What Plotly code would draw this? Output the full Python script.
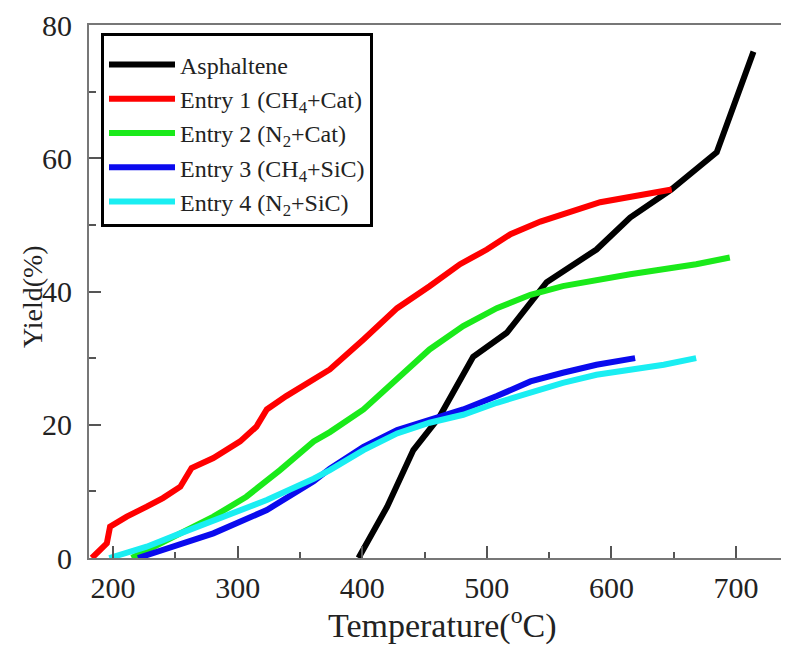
import plotly.graph_objects as go

# ---- data ----
asph_T = [397, 420, 441, 462, 489, 516, 548, 588, 615, 648, 684.5, 714]
asph_Y = [0, 7.7, 16.2, 21.2, 30.2, 33.8, 41.4, 46.3, 51.1, 55.3, 60.9, 76.0]

e1_T = [183, 195, 197.6, 211, 227, 240, 254, 259, 263, 280.5, 302, 315, 323.4, 339, 361, 374, 401, 428, 454, 478.5, 500, 519, 543, 591, 648.4]
e1_Y = [0, 2.2, 4.7, 6.2, 7.7, 9.0, 10.7, 12.2, 13.5, 15.0, 17.5, 19.7, 22.3, 24.3, 26.8, 28.3, 32.8, 37.5, 40.8, 44.1, 46.3, 48.6, 50.5, 53.4, 55.3]

e2_T = [215, 248, 280.5, 307, 334, 361, 374, 401, 428, 454, 481, 508, 535, 561, 615, 668, 695]
e2_Y = [0, 3.2, 6.2, 9.2, 13.2, 17.5, 18.9, 22.3, 26.8, 31.3, 34.8, 37.5, 39.5, 40.8, 42.6, 44.1, 45.1]

e3_T = [220, 254, 280.5, 323.4, 361, 374, 401, 428, 454, 481, 508, 535, 561, 588, 619]
e3_Y = [0, 2.2, 3.7, 7.2, 11.5, 13.4, 16.7, 19.2, 20.8, 22.3, 24.3, 26.5, 27.8, 29.0, 30.0]

e4_T = [197, 227, 254, 294, 323.4, 361, 374, 401, 428, 454, 481, 508, 535, 561, 588, 642, 668]
e4_Y = [0, 1.7, 3.7, 6.7, 8.7, 11.9, 13.2, 16.2, 18.7, 20.3, 21.5, 23.3, 24.8, 26.3, 27.5, 29.0, 30.0]

names = ["Asphaltene", "Entry 1 (CH<sub>4</sub>+Cat)", "Entry 2 (N<sub>2</sub>+Cat)",
         "Entry 3 (CH<sub>4</sub>+SiC)", "Entry 4 (N<sub>2</sub>+SiC)"]
colors = ["#000000", "#ff0000", "#1aea1a", "#0a0aee", "#1aeef2"]
series = [(asph_T, asph_Y), (e1_T, e1_Y), (e2_T, e2_Y), (e3_T, e3_Y), (e4_T, e4_Y)]

x_ticks = [200, 300, 400, 500, 600, 700]
y_ticks = [0, 20, 40, 60, 80]

FONT = "Liberation Serif"

# the page body adds an 8px offset; compensate so the plot area sits at 89..789 x 25..558
W, H = 781, 639
L, T = 81, 17
PW, PH = 700, 533

fig = go.Figure()
for i, ((t, y), n, c) in enumerate(zip(series, names, colors)):
    fig.add_trace(go.Scatter(x=t, y=y, mode="lines", name=n, legendgroup=str(i),
                             line=dict(color=c, width=6)))

axis_common = dict(showgrid=False, zeroline=False, showline=True, linecolor="#777",
                   linewidth=2, ticks="inside", tickcolor="#555", tickwidth=2,
                   ticklen=12, tickfont=dict(family=FONT, size=30, color="#222"))


def px_x(px):
    return (px - 8 - L) / PW


def px_y(py):
    return (T + PH - (py - 8)) / PH


fig.update_layout(
    width=W, height=H,
    margin=dict(l=L, r=0, t=T, b=H - T - PH),
    paper_bgcolor="white", plot_bgcolor="white",
    showlegend=True,
    legend=dict(x=px_x(101), y=px_y(33), xanchor="left", yanchor="top",
                bordercolor="black", borderwidth=3, bgcolor="white",
                font=dict(family=FONT, size=24, color="#222"),
                title=dict(text=" ", font=dict(size=5)),
                tracegroupgap=0, itemwidth=66),
    xaxis=dict(range=[180.7, 742.5], tickvals=x_ticks, mirror=True,
               minor=dict(dtick=50, ticks="inside", ticklen=6, tickcolor="#555", tickwidth=2),
               ticklabelstandoff=2, **axis_common),
    yaxis=dict(range=[0, 80], tickvals=y_ticks,
               minor=dict(dtick=10, ticks="inside", ticklen=7, tickcolor="#555", tickwidth=2),
               ticklabelstandoff=9, **axis_common),
    annotations=[
        dict(text="Temperature(<sup>o</sup>C)", x=px_x(442), y=px_y(623),
             xref="paper", yref="paper", showarrow=False, xanchor="center", yanchor="middle",
             font=dict(family=FONT, size=34, color="#222")),
        dict(text="Yield(%)", x=px_x(32), y=px_y(297), textangle=-90,
             xref="paper", yref="paper", showarrow=False, xanchor="center", yanchor="middle",
             font=dict(family=FONT, size=28, color="#222")),
    ],
)

fig.write_html("out.html")
